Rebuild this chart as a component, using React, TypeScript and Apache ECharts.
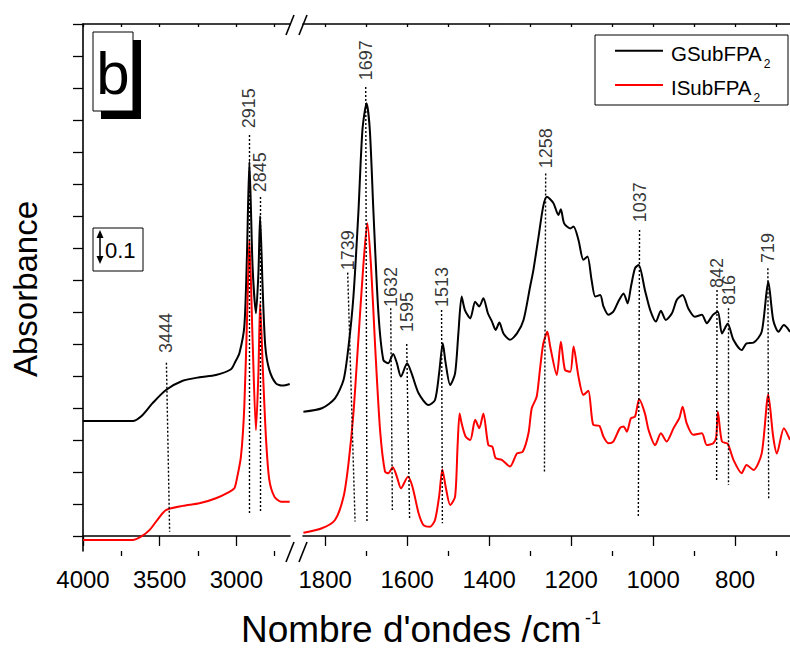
import React, { useEffect, useRef } from 'react';
import * as echarts from 'echarts';

const FONT = '"Liberation Sans", Arial, Helvetica, sans-serif';

// ---- Spectra, left segment (4000 – 2650 cm-1) ----
const leftBlackWn = [4000, 3830, 3676, 3622, 3546, 3459, 3350, 3241, 3133, 3035, 3006, 2980, 2948, 2931, 2915, 2894, 2872, 2856, 2845, 2828, 2811, 2785, 2742, 2698, 2652];
const leftBlackAbs = [0.359, 0.359, 0.359, 0.373, 0.415, 0.456, 0.485, 0.496, 0.503, 0.521, 0.545, 0.571, 0.654, 0.873, 1.17, 0.842, 0.696, 0.822, 1.0, 0.769, 0.592, 0.519, 0.477, 0.47, 0.475];

const leftRedWn = [4000, 3830, 3676, 3622, 3565, 3500, 3459, 3350, 3241, 3133, 3045, 3013, 2998, 2970, 2948, 2928, 2915, 2894, 2872, 2856, 2845, 2826, 2806, 2785, 2752, 2709, 2652];
const leftRedAbs = [-0.0125, -0.0125, -0.0125, -0.002, 0.019, 0.06, 0.081, 0.094, 0.102, 0.118, 0.138, 0.149, 0.175, 0.248, 0.404, 0.717, 0.925, 0.613, 0.331, 0.509, 0.727, 0.508, 0.3, 0.175, 0.123, 0.107, 0.107];

// ---- Spectra, right segment (1854 – 666 cm-1) ----
const rightBlackWn = [1853, 1808, 1776, 1755, 1743, 1731, 1719, 1709, 1699, 1691, 1682, 1670, 1658, 1646, 1634, 1625, 1615, 1600, 1589, 1572, 1548, 1532, 1522, 1513, 1506, 1495, 1483, 1475, 1467, 1459, 1446, 1434, 1424, 1414, 1403, 1393, 1384, 1375, 1365, 1349, 1332, 1316, 1300, 1292, 1280, 1268, 1259, 1243, 1231, 1225, 1217, 1202, 1194, 1182, 1170, 1160, 1150, 1141, 1129, 1121, 1109, 1097, 1085, 1072, 1062, 1054, 1044, 1035, 1020, 1007, 993, 981, 969, 954, 942, 928, 914, 898, 881, 869, 854, 842, 832, 818, 804, 784, 772, 755, 735, 719, 707, 694, 681, 666];
const rightBlackAbs = [0.388, 0.399, 0.43, 0.488, 0.592, 0.748, 1.008, 1.269, 1.352, 1.269, 1.008, 0.696, 0.55, 0.54, 0.569, 0.54, 0.498, 0.54, 0.508, 0.446, 0.409, 0.425, 0.508, 0.602, 0.54, 0.472, 0.508, 0.633, 0.748, 0.706, 0.68, 0.732, 0.717, 0.743, 0.696, 0.67, 0.644, 0.667, 0.633, 0.613, 0.633, 0.675, 0.779, 0.831, 0.93, 1.03, 1.06, 1.04, 1.003, 1.021, 0.977, 0.961, 0.967, 0.925, 0.863, 0.873, 0.8, 0.748, 0.753, 0.717, 0.691, 0.701, 0.732, 0.758, 0.727, 0.779, 0.837, 0.847, 0.769, 0.706, 0.67, 0.704, 0.675, 0.696, 0.738, 0.753, 0.711, 0.685, 0.691, 0.665, 0.691, 0.701, 0.633, 0.663, 0.613, 0.581, 0.602, 0.604, 0.638, 0.795, 0.675, 0.638, 0.659, 0.638];

const rightRedWn = [1853, 1808, 1776, 1755, 1743, 1731, 1719, 1707, 1697, 1688, 1678, 1666, 1654, 1646, 1635, 1625, 1615, 1598, 1587, 1572, 1560, 1544, 1532, 1522, 1514, 1506, 1495, 1483, 1477, 1472, 1467, 1457, 1446, 1434, 1424, 1414, 1402, 1392, 1384, 1369, 1349, 1332, 1318, 1304, 1296, 1284, 1276, 1268, 1258, 1251, 1235, 1225, 1215, 1202, 1194, 1182, 1170, 1158, 1146, 1131, 1121, 1109, 1097, 1081, 1072, 1064, 1054, 1044, 1034, 1020, 1011, 995, 981, 967, 950, 936, 928, 918, 902, 881, 869, 853, 846, 842, 832, 818, 804, 784, 772, 755, 735, 719, 707, 698, 681, 666];
const rightRedAbs = [0.01, 0.024, 0.05, 0.123, 0.227, 0.383, 0.613, 0.842, 0.977, 0.842, 0.592, 0.331, 0.201, 0.196, 0.215, 0.185, 0.149, 0.185, 0.154, 0.071, 0.034, 0.029, 0.05, 0.123, 0.208, 0.154, 0.097, 0.123, 0.279, 0.383, 0.352, 0.31, 0.3, 0.363, 0.337, 0.383, 0.284, 0.279, 0.243, 0.238, 0.217, 0.258, 0.263, 0.321, 0.399, 0.435, 0.52, 0.6, 0.638, 0.592, 0.503, 0.607, 0.519, 0.513, 0.592, 0.498, 0.441, 0.454, 0.347, 0.344, 0.31, 0.29, 0.295, 0.337, 0.342, 0.326, 0.368, 0.373, 0.427, 0.383, 0.331, 0.284, 0.321, 0.295, 0.337, 0.368, 0.404, 0.352, 0.316, 0.321, 0.284, 0.29, 0.31, 0.388, 0.295, 0.288, 0.238, 0.196, 0.222, 0.206, 0.258, 0.441, 0.31, 0.258, 0.337, 0.3];

// ---- Peak annotations (label centre, dotted line top and bottom) ----
const leftPeakLabels = ['3444', '2915', '2845'];
const leftLabelAbs = [0.634, 1.337, 1.137];
const leftTopWn = [3456, 2915, 2845];
const leftTopAbs = [0.541, 1.253, 1.059];
const leftBottomWn = [3435, 2913, 2845];
const leftBottomAbs = [0.013, 0.072, 0.072];

const rightPeakLabels = ['1739', '1697', '1632', '1595', '1513', '1258', '1037', '842', '816', '719'];
const rightLabelAbs = [0.893, 1.487, 0.778, 0.7, 0.778, 1.212, 1.043, 0.822, 0.769, 0.9];
const rightTopWn = [1745, 1701, 1640, 1601, 1516, 1262, 1033, 844, 816, 720];
const rightTopAbs = [0.823, 1.403, 0.712, 0.6, 0.706, 1.133, 0.956, 0.769, 0.712, 0.837];
const rightBottomWn = [1727, 1698, 1636, 1594, 1514, 1265, 1036, 845, 816, 718];
const rightBottomAbs = [0.045, 0.045, 0.081, 0.055, 0.04, 0.196, 0.06, 0.17, 0.159, 0.1125];

// ---- Axis ticks ----
const leftMajorTicks = [4000, 3500, 3000];
const leftMinorTicks = [3750, 3250, 2750];
const leftTopTicks = [4000, 3750, 3500, 3250, 3000, 2750];
const rightMajorTicks = [1800, 1600, 1400, 1200, 1000, 800];
const rightMinorTicks = [1700, 1500, 1300, 1100, 900, 700];
const rightTopTicks = [1800, 1700, 1600, 1500, 1400, 1300, 1200, 1100, 1000, 900, 800, 700];
const yTicks = [0, 0.1, 0.2, 0.3, 0.4, 0.5, 0.6, 0.7, 0.8, 0.9, 1.0, 1.1, 1.2, 1.3, 1.4, 1.5, 1.6];

// ---- Legend ----
const seriesNames = ['GSubFPA2', 'ISubFPA2'];
const legendMain = ['GSubFPA', 'ISubFPA'];
const legendSub = ['2', '2'];
const seriesColors = ['#000000', '#ff0000'];

const LEFT_RANGE = [2650, 4000];
const RIGHT_RANGE = [666, 1854];
const Y_RANGE = [-0.047, 1.6];

const zip = (xs: number[], ys: number[]) => xs.map((x, i) => [x, ys[i]]);

const AXIS_LINE = { color: '#000', width: 1.6 };
const TICK_LINE = { color: '#000', width: 1.3 };

function bottomMajor(gridIndex: number, range: number[], ticks: number[]) {
  return {
    gridIndex, type: 'value', position: 'bottom', inverse: true, min: range[0], max: range[1],
    axisLine: { show: true, lineStyle: AXIS_LINE },
    axisTick: { show: true, inside: false, length: 10, lineStyle: TICK_LINE, customValues: ticks },
    axisLabel: {
      show: true, customValues: ticks, fontSize: 24, color: '#000', fontFamily: FONT, margin: 16,
      formatter: (v: number) => String(v),
    },
    splitLine: { show: false },
  };
}
function bottomMinor(gridIndex: number, range: number[], ticks: number[]) {
  return {
    gridIndex, type: 'value', position: 'bottom', inverse: true, min: range[0], max: range[1],
    axisLine: { show: false },
    axisTick: { show: true, inside: false, length: 5, lineStyle: TICK_LINE, customValues: ticks },
    axisLabel: { show: false },
    splitLine: { show: false },
  };
}
function topAxis(gridIndex: number, range: number[], ticks: number[]) {
  return {
    gridIndex, type: 'value', position: 'top', inverse: true, min: range[0], max: range[1],
    axisLine: { show: true, lineStyle: AXIS_LINE },
    axisTick: { show: true, inside: true, length: 3, lineStyle: TICK_LINE, customValues: ticks },
    axisLabel: { show: false },
    splitLine: { show: false },
  };
}

function peakLines(topWn: number[], topAbs: number[], botWn: number[], botAbs: number[]) {
  return {
    silent: true,
    symbol: ['none', 'none'],
    label: { show: false },
    lineStyle: { color: '#000', width: 1.4, type: [2, 2] },
    emphasis: { disabled: true },
    animation: false,
    data: topWn.map((w, i) => [
      { coord: [w, topAbs[i]] },
      { coord: [botWn[i], botAbs[i]] },
    ]),
  };
}

function labelSeries(xIdx: number, yIdx: number, wn: number[], abs: number[], texts: string[]) {
  return {
    type: 'scatter', xAxisIndex: xIdx, yAxisIndex: yIdx, silent: true,
    symbolSize: 1, itemStyle: { color: 'rgba(0,0,0,0)' },
    data: wn.map((w, i) => [w, abs[i], texts[i]]),
    label: {
      show: true, formatter: (p: any) => p.data[2], rotate: 90, position: 'inside',
      align: 'center', verticalAlign: 'middle', fontSize: 18, color: '#000', fontFamily: FONT,
    },
    z: 10,
  };
}

function lineSeries(name: string, xIdx: number, yIdx: number, data: number[][], color: string, extra: any = {}) {
  return {
    name, type: 'line', xAxisIndex: xIdx, yAxisIndex: yIdx, data,
    symbol: 'none', smooth: 0.25, lineStyle: { color, width: 2 }, itemStyle: { color },
    silent: true, ...extra,
  };
}

function legendGraphic() {
  const rowY = [50.7, 85];
  const mainWidth = [92.3, 82]; // advance of the names at 20.5px
  const els: any[] = [
    { type: 'rect', shape: { x: 595, y: 35, width: 193, height: 70 }, style: { fill: '#fff', stroke: '#000', lineWidth: 1 }, z: 20 },
  ];
  rowY.forEach((y, i) => {
    els.push({ type: 'line', shape: { x1: 615, y1: y, x2: 663, y2: y }, style: { stroke: seriesColors[i], lineWidth: 2 }, z: 21 });
    els.push({
      type: 'text', x: 671, y: y + 2.3, z: 21,
      style: { text: legendMain[i], fontSize: 20.5, fontFamily: FONT, fill: '#000', align: 'left', verticalAlign: 'middle' },
    });
    els.push({
      type: 'text', x: 671 + mainWidth[i] + 0.5, y: y + 13, z: 21,
      style: { text: legendSub[i], fontSize: 12, fontFamily: FONT, fill: '#000', align: 'left', verticalAlign: 'middle' },
    });
  });
  return els;
}

export default function App() {
  const ref = useRef<HTMLDivElement>(null);
  useEffect(() => {
    if (!ref.current) return;
    const chart = echarts.init(ref.current, undefined, { renderer: 'svg' });
    const option: any = {
      animation: false,
      backgroundColor: '#fff',
      textStyle: { fontFamily: FONT },
      grid: [
        { left: 83, top: 24, width: 207, height: 527 },
        { left: 303, top: 24, width: 487, height: 527 },
      ],
      xAxis: [
        bottomMajor(0, LEFT_RANGE, leftMajorTicks),
        bottomMinor(0, LEFT_RANGE, leftMinorTicks),
        topAxis(0, LEFT_RANGE, leftTopTicks),
        bottomMajor(1, RIGHT_RANGE, rightMajorTicks),
        bottomMinor(1, RIGHT_RANGE, rightMinorTicks),
        topAxis(1, RIGHT_RANGE, rightTopTicks),
      ],
      yAxis: [
        {
          gridIndex: 0, type: 'value', min: Y_RANGE[0], max: Y_RANGE[1],
          axisLine: { show: true, lineStyle: AXIS_LINE },
          axisTick: { show: true, inside: false, length: 10, lineStyle: TICK_LINE, customValues: yTicks },
          axisLabel: { show: false }, splitLine: { show: false },
        },
        { gridIndex: 1, type: 'value', min: Y_RANGE[0], max: Y_RANGE[1], show: false, splitLine: { show: false } },
      ],
      series: [
        lineSeries(seriesNames[0], 0, 0, zip(leftBlackWn, leftBlackAbs), seriesColors[0]),
        lineSeries(seriesNames[1], 0, 0, zip(leftRedWn, leftRedAbs), seriesColors[1], {
          markLine: peakLines(leftTopWn, leftTopAbs, leftBottomWn, leftBottomAbs),
        }),
        lineSeries(seriesNames[0], 3, 1, zip(rightBlackWn, rightBlackAbs), seriesColors[0]),
        lineSeries(seriesNames[1], 3, 1, zip(rightRedWn, rightRedAbs), seriesColors[1], {
          markLine: peakLines(rightTopWn, rightTopAbs, rightBottomWn, rightBottomAbs),
        }),
        labelSeries(0, 0, leftTopWn, leftLabelAbs, leftPeakLabels),
        labelSeries(3, 1, rightTopWn, rightLabelAbs, rightPeakLabels),
      ],
      graphic: [
        // axis break marks
        { type: 'line', shape: { x1: 286, y1: 35, x2: 294, y2: 15 }, style: { stroke: '#000', lineWidth: 1.6 } },
        { type: 'line', shape: { x1: 299, y1: 35, x2: 307, y2: 15 }, style: { stroke: '#000', lineWidth: 1.6 } },
        { type: 'line', shape: { x1: 286, y1: 562, x2: 294, y2: 542 }, style: { stroke: '#000', lineWidth: 1.6 } },
        { type: 'line', shape: { x1: 299, y1: 562, x2: 307, y2: 542 }, style: { stroke: '#000', lineWidth: 1.6 } },
        // panel label "b" with shadow
        { type: 'rect', shape: { x: 101, y: 40, width: 40, height: 79 }, style: { fill: '#000' } },
        { type: 'rect', shape: { x: 93, y: 32, width: 40, height: 79 }, style: { fill: '#fff', stroke: '#000', lineWidth: 1 } },
        { type: 'text', x: 113, y: 73, style: { text: 'b', fontSize: 60, fontFamily: FONT, fill: '#000', align: 'center', verticalAlign: 'middle' } },
        // 0.1 scale bar
        { type: 'rect', shape: { x: 93, y: 228, width: 50, height: 43 }, style: { fill: '#fff', stroke: '#000', lineWidth: 1 } },
        { type: 'line', shape: { x1: 100, y1: 234, x2: 100, y2: 260 }, style: { stroke: '#000', lineWidth: 1.5 } },
        { type: 'polygon', shape: { points: [[100, 230], [96.5, 238], [103.5, 238]] }, style: { fill: '#000' } },
        { type: 'polygon', shape: { points: [[100, 264], [96.5, 256], [103.5, 256]] }, style: { fill: '#000' } },
        { type: 'text', x: 105, y: 250, style: { text: '0.1', fontSize: 22, fontFamily: FONT, fill: '#000', align: 'left', verticalAlign: 'middle' } },
        // axis titles
        { type: 'text', x: 241, y: 629, style: { text: "Nombre d'ondes /cm", fontSize: 37, fontFamily: FONT, fill: '#000', align: 'left', verticalAlign: 'middle' } },
        { type: 'text', x: 585, y: 618, style: { text: '-1', fontSize: 18, fontFamily: FONT, fill: '#000', align: 'left', verticalAlign: 'middle' } },
        { type: 'text', x: 25, y: 289, rotation: Math.PI / 2, style: { text: 'Absorbance', fontSize: 33, fontFamily: FONT, fill: '#000', align: 'center', verticalAlign: 'middle' } },
        // legend
        ...legendGraphic(),
      ],
    };
    chart.setOption(option);
    return () => chart.dispose();
  }, []);
  return <div ref={ref} style={{ position: 'fixed', left: 0, top: 0, width: 790, height: 648 }} />;
}
